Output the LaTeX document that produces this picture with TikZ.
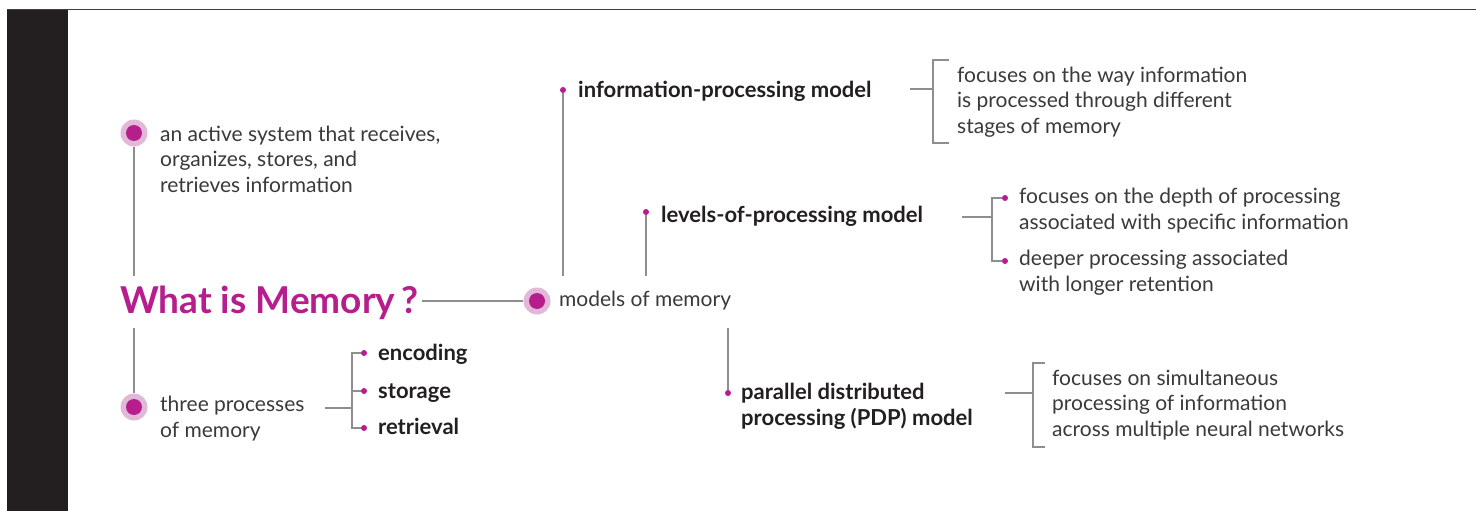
\documentclass[tikz,border=0pt]{standalone}
\usepackage{fontspec}
\setmainfont{Lato}
\usetikzlibrary{positioning, calc, backgrounds}

\definecolor{memmag}{HTML}{B51E8C}
\definecolor{mempink}{HTML}{E2B8D8}
\definecolor{memgray}{HTML}{8E8E8E}
\definecolor{memtext}{HTML}{3A3A3A}
\definecolor{membar}{HTML}{231F20}

\begin{document}
\begin{tikzpicture}[x=1pt, y=-1pt,
  link/.style={memgray, line width=1.2pt},
  bigdot/.style={circle, fill=mempink, minimum size=27pt, inner sep=0pt,
    path picture={\fill[memmag] (path picture bounding box.center) circle (8pt);}},
  smalldot/.style={circle, fill=memmag, minimum size=6pt, inner sep=0pt},
  desc/.style={anchor=base west, align=left, inner sep=0pt, text=memtext,
    font=\fontsize{21}{25.5}\selectfont},
  head/.style={anchor=base west, align=left, inner sep=0pt, text=membar,
    font=\fontsize{22}{25.5}\selectfont\bfseries}]
  \useasboundingbox (0,0) rectangle (1476,511);

  % Page and side bar
  \begin{scope}[on background layer]
    \fill[white] (0,0) rectangle (1476,511);
    \fill[membar] (7,10) rectangle (68,511);
    \draw[black!75, line width=1pt] (7,9.5) -- (1476,9.5);
  \end{scope}

  % Main column (multi-line texts sit on their last baseline)
  \node[bigdot] (active) at (134,133) {};
  \node[desc] (activetxt) at (160,192)
    {an active system that receives,\\organizes, stores, and\\retrieves information};
  \node[anchor=base west, inner sep=0pt, text=memmag,
    font=\fontsize{37}{37}\selectfont\bfseries] (title) at (120,313) {What is Memory\,?};
  \node[bigdot] (three) at (134,407) {};
  \node[desc] (threetxt) at (160,437) {three processes\\of memory};
  \node[bigdot] (models) at (537,301) {};
  \node[desc] (modelstxt) at (559,306) {models of memory};

  \coordinate (titletop) at (134,276);
  \coordinate (titlebot) at (134,328);
  \coordinate (titleout) at (422,301);

  % Three processes
  \coordinate (procout) at (325,408);
  \coordinate (procjoin) at (352,408);
  \node[smalldot] (encdot) at (364,353) {};
  \node[smalldot] (stodot) at (364,391) {};
  \node[smalldot] (retdot) at (364,428) {};
  \node[head] (enc) at (378,360) {encoding};
  \node[head] (sto) at (378,398) {storage};
  \node[head] (ret) at (378,434) {retrieval};

  % Models of memory
  \coordinate (infofoot) at (563,276);
  \coordinate (levfoot) at (646,276);
  \coordinate (pdptop) at (728,328);
  \node[smalldot] (infodot) at (563,90) {};
  \node[head] (info) at (578,97) {information-processing model};
  \node[smalldot] (levdot) at (646,212) {};
  \node[head] (lev) at (661,222) {levels-of-processing model};
  \node[smalldot] (pdpdot) at (728,393) {};
  \node[head] (pdp) at (741,425) {parallel distributed\\processing (PDP) model};

  % Information-processing bracket
  \coordinate (infoout) at (910,89);
  \coordinate (infojoin) at (933,89);
  \coordinate (infotop) at (949,60);
  \coordinate (infobot) at (949,143);
  \node[desc] (infotxt) at (957,133)
    {focuses on the way information\\is processed through different\\stages of memory};

  % Levels-of-processing bracket
  \coordinate (levout) at (962,217);
  \coordinate (levjoin) at (992,217);
  \node[smalldot] (depthdot) at (1005,198) {};
  \node[smalldot] (deepdot) at (1005,261) {};
  \node[desc] (depthtxt) at (1019,229)
    {focuses on the depth of processing\\associated with specific information};
  \node[desc] (deeptxt) at (1019,291)
    {deeper processing associated\\with longer retention};

  % PDP bracket
  \coordinate (pdpout) at (1005,393);
  \coordinate (pdpjoin) at (1033,393);
  \coordinate (pdptopt) at (1045,363);
  \coordinate (pdpbot) at (1045,447);
  \node[desc] (pdptxt) at (1052,436)
    {focuses on simultaneous\\processing of information\\across multiple neural networks};

  % Connectors
  \begin{scope}[on background layer]
    \draw[link] (active) -- (titletop);
    \draw[link] (titlebot) -- (three);
    \draw[link] (titleout) -- (models);
    \draw[link] (procout) -- (procjoin);
    \draw[link] (encdot) -| (procjoin) |- (retdot);
    \draw[link] (stodot) -- (stodot -| procjoin);
    \draw[link] (infodot) -- (infofoot);
    \draw[link] (levdot) -- (levfoot);
    \draw[link] (pdptop) -- (pdpdot);
    \draw[link] (infoout) -- (infojoin);
    \draw[link] (infotop) -| (infojoin) |- (infobot);
    \draw[link] (levout) -- (levjoin);
    \draw[link] (depthdot) -| (levjoin) |- (deepdot);
    \draw[link] (pdpout) -- (pdpjoin);
    \draw[link] (pdptopt) -| (pdpjoin) |- (pdpbot);
  \end{scope}
\end{tikzpicture}
\end{document}
